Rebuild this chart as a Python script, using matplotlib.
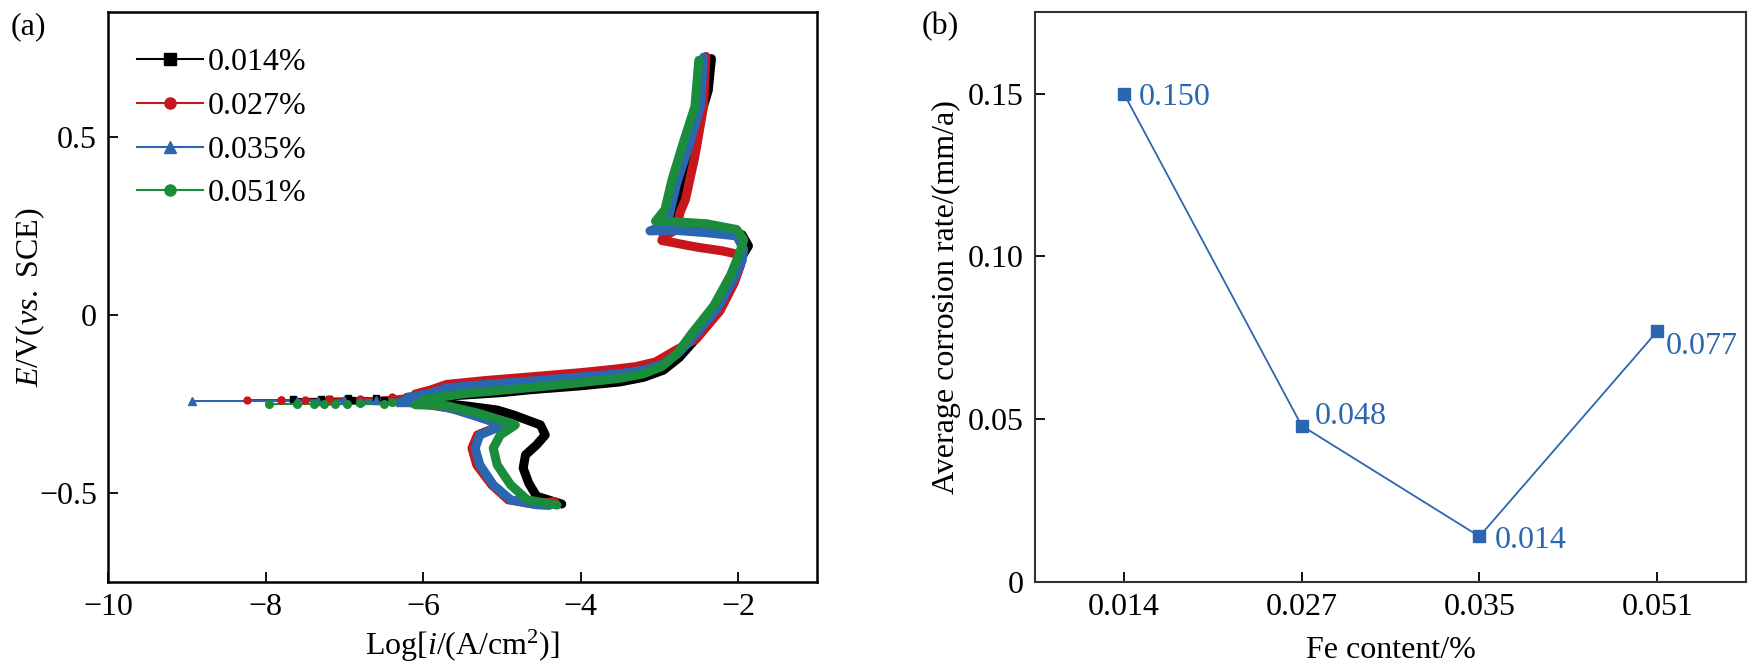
import numpy as np
import matplotlib
matplotlib.use("Agg")
import matplotlib.pyplot as plt

plt.rcParams['font.family'] = ['Liberation Serif', 'DejaVu Serif']
plt.rcParams['mathtext.fontset'] = 'custom'
plt.rcParams['mathtext.rm'] = 'Liberation Serif'
plt.rcParams['mathtext.it'] = 'Liberation Serif:italic'

# (a) polarization curves, traced: cathodic end -> Ecorr -> anodic end
black_x = [-4.24, -4.56, -4.66, -4.73, -4.70, -4.56, -4.45, -4.51, -4.85, -5.06, -5.40, -5.70, -6.10,
           -6.5, -6.9, -7.2, -7.65,
           -7.3, -6.95, -6.6, -6.2, -5.7, -5.0, -4.64, -4.0, -3.5, -3.2, -2.95, -2.75, -2.55, -2.33, -2.12,
           -1.95, -1.87, -1.95, -2.15, -2.40, -2.82, -2.86, -2.82, -2.65, -2.53, -2.38, -2.34]
black_y = [-0.531, -0.509, -0.472, -0.430, -0.393, -0.365, -0.337, -0.309, -0.281, -0.267, -0.257, -0.249, -0.243,
           -0.240, -0.238, -0.237, -0.236,
           -0.235, -0.234, -0.233, -0.231, -0.228, -0.218, -0.210, -0.199, -0.188, -0.175, -0.155, -0.120, -0.070,
           0.010, 0.100, 0.165, 0.194, 0.225, 0.240, 0.245, 0.250, 0.262, 0.287, 0.417, 0.520, 0.631, 0.720]

red_x = [-4.33, -4.60, -4.92, -5.13, -5.32, -5.38, -5.31, -5.00, -5.30, -5.65, -6.0,
         -6.4, -6.8, -7.2, -7.8, -8.24,
         -7.8, -7.5, -7.2, -6.8, -6.4, -6.1, -5.91, -5.70, -5.2, -4.64, -4.0, -3.6, -3.3, -3.05, -2.8, -2.53,
         -2.23, -2.05, -1.97, -2.00, -2.20, -2.48, -2.61, -2.82, -2.97, -2.95, -2.78, -2.74, -2.67, -2.55,
         -2.44, -2.41]
red_y = [-0.524, -0.531, -0.519, -0.477, -0.421, -0.374, -0.337, -0.309, -0.285, -0.262, -0.250,
         -0.244, -0.242, -0.241, -0.240, -0.240,
         -0.239, -0.238, -0.237, -0.235, -0.230, -0.222, -0.211, -0.195, -0.184, -0.174, -0.162, -0.153, -0.145,
         -0.132, -0.100, -0.067, 0.012, 0.090, 0.140, 0.170, 0.180, 0.189, 0.194, 0.203, 0.209, 0.220, 0.240,
         0.287, 0.324, 0.445, 0.585, 0.726]

blue_x = [-4.40, -4.56, -4.89, -5.11, -5.28, -5.34, -5.28, -4.98, -5.25, -5.60, -5.91,
          -6.3, -6.8, -7.33, -7.6, -8.93,
          -7.6, -7.0, -6.6, -6.2, -5.91, -5.70, -5.2, -4.64, -4.0, -3.5, -3.2, -2.95, -2.75, -2.57, -2.27,
          -2.06, -1.95, -1.93, -2.02, -2.40, -2.82, -3.12, -2.95, -2.89, -2.78, -2.63, -2.48, -2.44]
blue_y = [-0.535, -0.533, -0.519, -0.477, -0.421, -0.374, -0.337, -0.309, -0.290, -0.265, -0.250,
          -0.245, -0.243, -0.242, -0.242, -0.242,
          -0.241, -0.240, -0.238, -0.232, -0.220, -0.205, -0.195, -0.186, -0.174, -0.165, -0.155, -0.137,
          -0.105, -0.062, 0.017, 0.100, 0.152, 0.184, 0.222, 0.231, 0.238, 0.236, 0.250, 0.268, 0.371, 0.473,
          0.585, 0.724]

green_x = [-4.30, -4.68, -4.89, -5.06, -5.11, -5.02, -4.83, -5.28, -5.70, -6.1,
           -6.5, -6.97, -7.26, -7.60, -7.96,
           -7.39, -7.12, -6.8, -6.4, -6.0, -5.49, -4.64, -4.0, -3.5, -3.2, -2.97, -2.78, -2.61, -2.31, -2.10,
           -1.98, -1.93, -2.02, -2.40, -2.82, -3.05, -2.93, -2.84, -2.70, -2.55, -2.50]
green_y = [-0.534, -0.519, -0.477, -0.421, -0.374, -0.337, -0.309, -0.277, -0.255, -0.252,
           -0.251, -0.250, -0.250, -0.250, -0.250,
           -0.249, -0.249, -0.247, -0.244, -0.238, -0.221, -0.204, -0.190, -0.178, -0.165, -0.145, -0.110,
           -0.058, 0.026, 0.110, 0.175, 0.212, 0.240, 0.256, 0.262, 0.263, 0.296, 0.380, 0.482, 0.585, 0.715]

curve_labels = ['0.014%', '0.027%', '0.035%', '0.051%']

# (b) corrosion rate
fe_content = ['0.014', '0.027', '0.035', '0.051']
corrosion_rate = [0.150, 0.048, 0.014, 0.077]

FS = 23

fig = plt.figure(figsize=(17.63, 6.72), dpi=100)
ax1 = fig.add_axes([0.0613, 0.1339, 0.4021, 0.8478])
ax2 = fig.add_axes([0.5871, 0.1339, 0.4033, 0.8478])

styles = [('black', 's', 5), ('#c8161d', 'o', 5), ('#2b66b1', '^', 5.5), ('#1a8c3c', 'o', 5.5)]
series = [(black_x, black_y), (red_x, red_y), (blue_x, blue_y), (green_x, green_y)]

for (xs, ys), (col, mk, ms), lab in zip(series, styles, curve_labels):
    xs = np.array(xs)
    ys = np.array(ys)
    imin = int(np.argmin(xs))
    # thin line with markers through the sparse points around Ecorr
    ax1.plot(xs, ys, color=col, lw=1.3, zorder=2)
    sparse = xs < -6.2
    ax1.plot(xs[sparse], ys[sparse], ls='none', marker=mk, ms=ms, color=col, zorder=3)
    # dense branches drawn thick
    for sl in (slice(0, imin + 1), slice(imin, len(xs))):
        bx, by = xs[sl], ys[sl]
        keep = bx > -6.4
        ax1.plot(bx[keep], by[keep], color=col, lw=6.5, solid_capstyle='round',
                 solid_joinstyle='round', zorder=3)
    ax1.plot([], [], color=col, lw=1.5, marker=mk, ms=8, label=lab)

ax1.set_xlim(-10, -1)
ax1.set_ylim(-0.75, 0.85)
ax1.set_xticks([-10, -8, -6, -4, -2])
ax1.set_yticks([-0.5, 0, 0.5])
ax1.set_yticklabels(['\u22120.5', '0', '0.5'])
ax1.set_xlabel('Log[$i$/(A/cm$^2$)]', fontsize=FS, labelpad=4)
ax1.set_ylabel('$E$/V($vs.$ SCE)', fontsize=FS, labelpad=-6)
ax1.legend(loc='upper left', frameon=False, fontsize=FS, handlelength=2.05,
           handletextpad=0.15, labelspacing=0.45, borderaxespad=0,
           bbox_to_anchor=(0.023, 0.96))
ax1.text(-0.137, 1.0, '(a)', transform=ax1.transAxes, fontsize=FS, va='top')

blue = '#2b66b1'
xpos = np.arange(len(fe_content))
ax2.plot(xpos, corrosion_rate, color=blue, lw=1.3, marker='s', ms=9)
offsets = [(10.8, -3), (9.7, 7), (10.8, -3), (5.8, -11)]
for xp, v, off in zip(xpos, corrosion_rate, offsets):
    ax2.annotate(f'{v:.3f}', (xp, v), xytext=off, textcoords='offset points',
                 color=blue, fontsize=FS, ha='left', va='center')
ax2.set_xlim(-0.5, 3.5)
ax2.set_ylim(0, 0.175)
ax2.set_xticks(xpos)
ax2.set_xticklabels(fe_content)
ax2.set_yticks([0, 0.05, 0.10, 0.15])
ax2.set_yticklabels(['0', '0.05', '0.10', '0.15'])
ax2.set_xlabel('Fe content/%', fontsize=FS, labelpad=10)
ax2.set_ylabel('Average corrosion rate/(mm/a)', fontsize=FS, labelpad=5)
ax2.text(-0.16, 1.0, '(b)', transform=ax2.transAxes, fontsize=FS, va='top')

for ax in (ax1, ax2):
    ax.tick_params(direction='in', length=7, width=1.3, labelsize=FS, pad=8,
                   top=False, right=False)
    for sp in ax.spines.values():
        sp.set_linewidth(1.8)
for sp in ax2.spines.values():
    sp.set_color('#333333')
    sp.set_linewidth(1.5)

fig.savefig('out.png', dpi=100)
